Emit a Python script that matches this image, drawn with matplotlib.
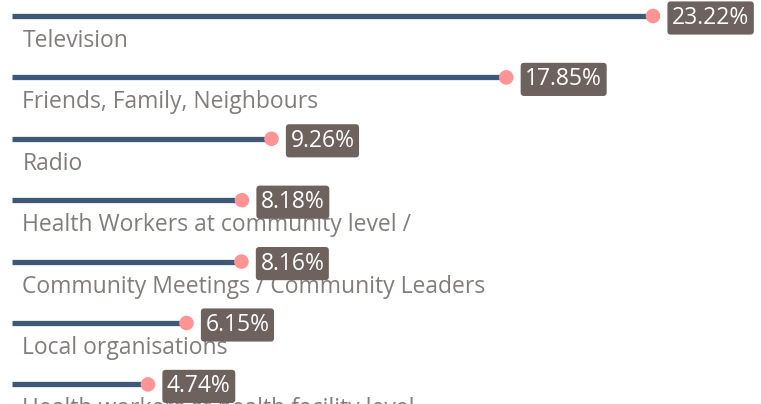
import matplotlib
matplotlib.use("Agg")
import matplotlib.pyplot as plt

categories = ["Television", "Friends, Family, Neighbours", "Radio",
              "Health Workers at community level /",
              "Community Meetings / Community Leaders",
              "Local organisations",
              "Health workers at health facility level"]
values = [23.22, 17.85, 9.26, 8.18, 8.16, 6.15, 4.74]

plt.rcParams['font.family'] = ['Open Sans', 'DejaVu Sans']

fig = plt.figure(figsize=(7.61, 4.04), dpi=100)
ax = fig.add_axes([0, 0, 1, 1])

# pixel mapping: x0 at 18.4px, 27.33 px per percent; rows every 61.4px from 16px
px_per_unit = 27.33
x_zero = 18.4
ax.set_xlim(-x_zero / px_per_unit, (761 - x_zero) / px_per_unit)
row_top, row_gap = 16, 61.4
ax.set_ylim((404 - row_top) / row_gap, -row_top / row_gap)
ax.axis("off")

line_start = -6.4 / px_per_unit
rows = list(range(len(values)))

ax.hlines(rows, line_start, values, color="#3f5878", lw=3.8, capstyle="butt", zorder=2)
ax.scatter(values, rows, s=110, color="#ff9494", zorder=3, edgecolors="none")

for i, (cat, v) in enumerate(zip(categories, values)):
    ax.text(4 / px_per_unit, i + 25 / row_gap, cat, fontsize=16.5, color="#837c7b",
            va="center", ha="left", zorder=1)
    ax.annotate(f"{v:.2f}%", (v, i), xytext=(19, -2), textcoords="offset pixels",
                ha="left", va="center", fontsize=16.5, color="white", zorder=4,
                bbox=dict(boxstyle="round,pad=0.2,rounding_size=0.15",
                          fc="#6e625e", ec="none"))

fig.savefig("out.png", dpi=100)
